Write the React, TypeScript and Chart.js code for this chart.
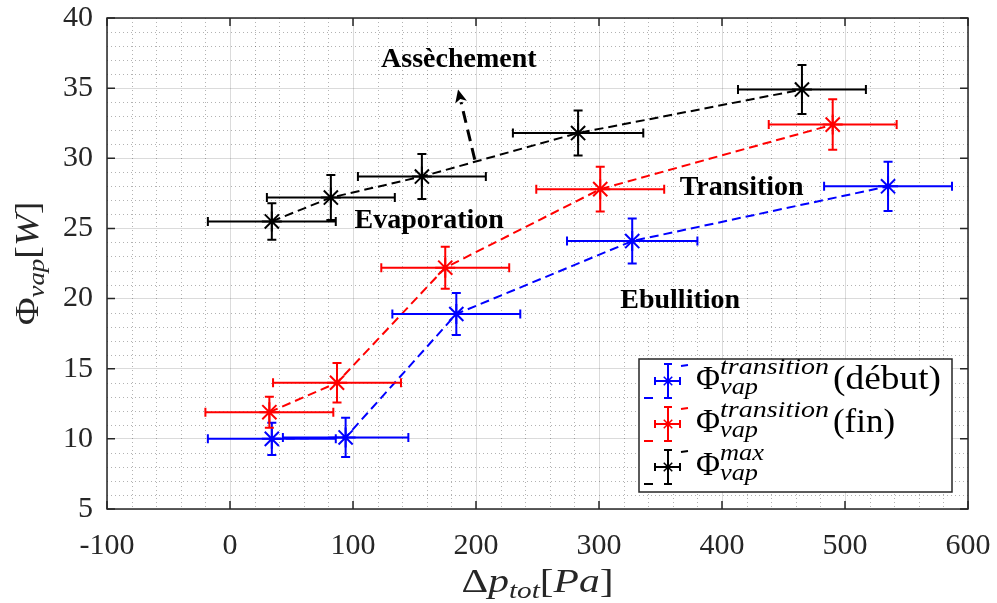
import React, { useEffect, useRef } from "react";
import { Chart, registerables } from "chart.js";

Chart.register(...registerables);

// ---------- data ----------
const xTickValues = [-100, 0, 100, 200, 300, 400, 500, 600];
const yTickValues = [5, 10, 15, 20, 25, 30, 35, 40];

const debutX = [34, 94, 184, 327, 535];
const debutY = [10.0, 10.1, 18.9, 24.1, 28.0];
const debutXErr = [52, 51, 52, 53, 52];
const debutYErr = [1.15, 1.4, 1.5, 1.6, 1.75];

const finX = [32, 87, 175, 301, 490];
const finY = [11.9, 14.0, 22.2, 27.8, 32.4];
const finXErr = [52, 52, 52, 52, 52];
const finYErr = [1.1, 1.4, 1.5, 1.6, 1.8];

const maxX = [34, 82, 156, 283, 465];
const maxY = [25.5, 27.2, 28.7, 31.8, 34.9];
const maxXErr = [52, 52, 52, 53, 52];
const maxYErr = [1.3, 1.6, 1.6, 1.6, 1.75];

const seriesColors = ["#0000ff", "#ff0000", "#000000"];
const legendSup = ["transition", "transition", "max"];
const legendSuffix = ["(début)", "(fin)", ""];

const annotationLabels = ["Assèchement", "Evaporation", "Transition", "Ebullition"];
const annotationX = [186, 162, 416, 366];
const annotationY = [36.5, 25.03, 27.4, 19.33];

const arrowFrom = { x: 199, y: 29.9 };
const arrowTo = { x: 185.4, y: 34.9 };

const SERIF = "'Liberation Serif', 'Times New Roman', serif";
const AXIS_COLOR = "#262626";

function toPoints(xs: number[], ys: number[]) {
  return xs.map((x, i) => ({ x, y: ys[i] }));
}

function drawText(
  ctx: CanvasRenderingContext2D,
  text: string,
  x: number,
  y: number,
  font: string,
  width?: number
) {
  ctx.save();
  ctx.font = font;
  ctx.textAlign = "left";
  ctx.textBaseline = "alphabetic";
  const w = ctx.measureText(text).width;
  const s = width ? width / w : 1;
  ctx.translate(x, y);
  ctx.scale(s, 1);
  ctx.fillText(text, 0, 0);
  ctx.restore();
}

function drawRun(
  ctx: CanvasRenderingContext2D,
  pieces: [string, string, number][],
  x: number,
  y: number,
  sx: number
) {
  ctx.save();
  ctx.translate(x, y);
  ctx.scale(sx, 1);
  ctx.textAlign = "left";
  ctx.textBaseline = "alphabetic";
  let cx = 0;
  for (const [t, f, dy] of pieces) {
    ctx.font = f;
    ctx.fillText(t, cx, dy);
    cx += ctx.measureText(t).width;
  }
  ctx.restore();
}

function runWidth(ctx: CanvasRenderingContext2D, pieces: [string, string, number][], sx: number) {
  ctx.save();
  let w = 0;
  for (const [t, f] of pieces) {
    ctx.font = f;
    w += ctx.measureText(t).width;
  }
  ctx.restore();
  return w * sx;
}

function drawStar(ctx: CanvasRenderingContext2D, cx: number, cy: number, r: number) {
  const d = r * Math.SQRT1_2;
  ctx.beginPath();
  ctx.moveTo(cx - r, cy);
  ctx.lineTo(cx + r, cy);
  ctx.moveTo(cx, cy - r);
  ctx.lineTo(cx, cy + r);
  ctx.moveTo(cx - d, cy - d);
  ctx.lineTo(cx + d, cy + d);
  ctx.moveTo(cx - d, cy + d);
  ctx.lineTo(cx + d, cy - d);
  ctx.stroke();
}

const errX = [debutXErr, finXErr, maxXErr];
const errY = [debutYErr, finYErr, maxYErr];
const seriesX = [debutX, finX, maxX];
const seriesY = [debutY, finY, maxY];

const decorPlugin = {
  id: "decor",
  beforeDatasetsDraw(chart: any) {
    const ctx: CanvasRenderingContext2D = chart.ctx;
    const xs = chart.scales.x;
    const ys = chart.scales.y;
    const ca = chart.chartArea;
    ctx.save();
    ctx.strokeStyle = "rgba(0,0,0,0.3)";
    ctx.lineWidth = 1;
    ctx.setLineDash([1, 3]);
    for (let v = -100; v <= 600; v += 20) {
      if (v % 100 === 0) continue;
      const px = Math.round(xs.getPixelForValue(v)) + 0.5;
      ctx.beginPath();
      ctx.moveTo(px, ca.top);
      ctx.lineTo(px, ca.bottom);
      ctx.stroke();
    }
    for (let v = 5; v <= 40; v += 1) {
      if (v % 5 === 0) continue;
      const py = Math.round(ys.getPixelForValue(v)) + 0.5;
      ctx.beginPath();
      ctx.moveTo(ca.left, py);
      ctx.lineTo(ca.right, py);
      ctx.stroke();
    }
    ctx.restore();
  },
  afterDatasetsDraw(chart: any) {
    const ctx: CanvasRenderingContext2D = chart.ctx;
    const xs = chart.scales.x;
    const ys = chart.scales.y;
    const ca = chart.chartArea;

    // error bars
    ctx.save();
    ctx.lineWidth = 2;
    ctx.setLineDash([]);
    const cap = 4.5;
    for (let s = 0; s < 3; s++) {
      ctx.strokeStyle = seriesColors[s];
      for (let i = 0; i < seriesX[s].length; i++) {
        const x = seriesX[s][i];
        const y = seriesY[s][i];
        const px = xs.getPixelForValue(x);
        const py = ys.getPixelForValue(y);
        const x0 = xs.getPixelForValue(x - errX[s][i]);
        const x1 = xs.getPixelForValue(x + errX[s][i]);
        const y0 = ys.getPixelForValue(y + errY[s][i]);
        const y1 = ys.getPixelForValue(y - errY[s][i]);
        ctx.beginPath();
        ctx.moveTo(x0, py);
        ctx.lineTo(x1, py);
        ctx.moveTo(x0, py - cap);
        ctx.lineTo(x0, py + cap);
        ctx.moveTo(x1, py - cap);
        ctx.lineTo(x1, py + cap);
        ctx.moveTo(px, y0);
        ctx.lineTo(px, y1);
        ctx.moveTo(px - cap, y0);
        ctx.lineTo(px + cap, y0);
        ctx.moveTo(px - cap, y1);
        ctx.lineTo(px + cap, y1);
        ctx.stroke();
      }
    }
    ctx.restore();

    // annotations
    ctx.save();
    ctx.fillStyle = "#000";
    ctx.font = `bold 28px ${SERIF}`;
    ctx.textAlign = "center";
    ctx.textBaseline = "alphabetic";
    annotationLabels.forEach((t, i) => {
      ctx.fillText(t, xs.getPixelForValue(annotationX[i]), ys.getPixelForValue(annotationY[i]));
    });
    ctx.restore();

    // arrow
    {
      const ax0 = xs.getPixelForValue(arrowFrom.x);
      const ay0 = ys.getPixelForValue(arrowFrom.y);
      const ax1 = xs.getPixelForValue(arrowTo.x);
      const ay1 = ys.getPixelForValue(arrowTo.y);
      const dx = ax1 - ax0;
      const dy = ay1 - ay0;
      const len = Math.hypot(dx, dy);
      const ux = dx / len;
      const uy = dy / len;
      const headL = 13;
      const headW = 6;
      ctx.save();
      ctx.strokeStyle = "#000";
      ctx.lineWidth = 3;
      ctx.setLineDash([12, 7]);
      ctx.beginPath();
      ctx.moveTo(ax0, ay0);
      ctx.lineTo(ax1 - ux * headL, ay1 - uy * headL);
      ctx.stroke();
      ctx.setLineDash([]);
      ctx.fillStyle = "#000";
      ctx.beginPath();
      ctx.moveTo(ax1, ay1);
      ctx.lineTo(ax1 - ux * headL - uy * headW, ay1 - uy * headL + ux * headW);
      ctx.lineTo(ax1 - ux * headL * 0.75, ay1 - uy * headL * 0.75);
      ctx.lineTo(ax1 - ux * headL + uy * headW, ay1 - uy * headL - ux * headW);
      ctx.closePath();
      ctx.fill();
      ctx.restore();
    }

    // frame and inward ticks
    ctx.save();
    ctx.strokeStyle = AXIS_COLOR;
    ctx.lineWidth = 1.5;
    ctx.setLineDash([]);
    ctx.strokeRect(ca.left, ca.top, ca.right - ca.left, ca.bottom - ca.top);
    const tl = 8;
    ctx.beginPath();
    xTickValues.forEach((v) => {
      const px = xs.getPixelForValue(v);
      ctx.moveTo(px, ca.bottom);
      ctx.lineTo(px, ca.bottom - tl);
      ctx.moveTo(px, ca.top);
      ctx.lineTo(px, ca.top + tl);
    });
    yTickValues.forEach((v) => {
      const py = ys.getPixelForValue(v);
      ctx.moveTo(ca.left, py);
      ctx.lineTo(ca.left + tl, py);
      ctx.moveTo(ca.right, py);
      ctx.lineTo(ca.right - tl, py);
    });
    ctx.stroke();
    ctx.restore();

    // legend
    {
      const R = ca.right - 16;
      const B = ca.bottom - 17;
      const L = R - 313;
      const T = B - 133;
      ctx.save();
      ctx.fillStyle = "#fff";
      ctx.fillRect(L, T, R - L, B - T);
      ctx.strokeStyle = AXIS_COLOR;
      ctx.lineWidth = 1.5;
      ctx.strokeRect(L, T, R - L, B - T);
      const step = 43;
      for (let r = 0; r < 3; r++) {
        const cx = L + 29;
        const cy = T + 22 + r * step;
        const col = seriesColors[r];
        ctx.strokeStyle = col;
        ctx.lineWidth = 2;
        ctx.beginPath();
        ctx.moveTo(cx - 24, cy + 17);
        ctx.lineTo(cx - 15, cy + 17);
        ctx.moveTo(cx + 13, cy - 15);
        ctx.lineTo(cx + 20, cy - 16);
        ctx.stroke();
        ctx.beginPath();
        ctx.moveTo(cx, cy - 17);
        ctx.lineTo(cx, cy + 17);
        ctx.moveTo(cx - 4, cy - 17);
        ctx.lineTo(cx + 4, cy - 17);
        ctx.moveTo(cx - 4, cy + 17);
        ctx.lineTo(cx + 4, cy + 17);
        ctx.moveTo(cx - 13, cy);
        ctx.lineTo(cx + 12, cy);
        ctx.moveTo(cx - 13, cy - 4);
        ctx.lineTo(cx - 13, cy + 4);
        ctx.moveTo(cx + 12, cy - 4);
        ctx.lineTo(cx + 12, cy + 4);
        ctx.stroke();
        ctx.lineWidth = 1.5;
        drawStar(ctx, cx, cy, 6);
        ctx.fillStyle = "#000";
        const base = T + 30 + r * step;
        drawText(ctx, "Φ", L + 57, base, `33px ${SERIF}`, 24);
        const supW = legendSup[r] === "max" ? 44 : 109;
        drawText(ctx, legendSup[r], L + 81, base - 15, `italic 24px ${SERIF}`, supW);
        drawText(ctx, "vap", L + 81, base + 5, `italic 24px ${SERIF}`, 38);
        if (legendSuffix[r]) {
          const sw = legendSuffix[r] === "(fin)" ? 62 : 108;
          drawText(ctx, legendSuffix[r], L + 194, base, `34px ${SERIF}`, sw);
        }
      }
      ctx.restore();
    }
  },
  afterDraw(chart: any) {
    const ctx: CanvasRenderingContext2D = chart.ctx;
    const ca = chart.chartArea;
    ctx.save();
    ctx.fillStyle = AXIS_COLOR;
    const xPieces: [string, string, number][] = [
      ["Δ", `34px ${SERIF}`, 0],
      ["p", `italic 34px ${SERIF}`, 0],
      ["tot", `italic 24px ${SERIF}`, 6],
      ["[", `34px ${SERIF}`, 0],
      ["Pa", `italic 34px ${SERIF}`, 0],
      ["]", `34px ${SERIF}`, 0],
    ];
    const sx = 1.22;
    const mid = (ca.left + ca.right) / 2;
    const wx = runWidth(ctx, xPieces, sx);
    drawRun(ctx, xPieces, mid - wx / 2, 592, sx);

    const yPieces: [string, string, number][] = [
      ["Φ", `34px ${SERIF}`, 0],
      ["vap", `italic 24px ${SERIF}`, 6],
      ["[", `34px ${SERIF}`, 0],
      ["W", `italic 34px ${SERIF}`, 0],
      ["]", `34px ${SERIF}`, 0],
    ];
    const wy = runWidth(ctx, yPieces, 1.12);
    const midY = (ca.top + ca.bottom) / 2;
    ctx.translate(38, midY + wy / 2);
    ctx.rotate(-Math.PI / 2);
    drawRun(ctx, yPieces, 0, 0, 1.12);
    ctx.restore();
  },
};

const tickFont = { family: SERIF, size: 30 };

function makeDataset(i: number, label: string) {
  return {
    label,
    data: toPoints(seriesX[i], seriesY[i]),
    showLine: true,
    borderColor: seriesColors[i],
    backgroundColor: seriesColors[i],
    borderWidth: 2,
    borderDash: [9, 5],
    pointStyle: "star" as const,
    pointRadius: 10,
    pointHoverRadius: 10,
    pointBorderWidth: 2,
    pointBorderColor: seriesColors[i],
    tension: 0,
  };
}

export default function App() {
  const ref = useRef<HTMLCanvasElement>(null);
  useEffect(() => {
    document.body.style.margin = "0";
    const chart = new Chart(ref.current as HTMLCanvasElement, {
      type: "scatter",
      data: {
        datasets: [
          makeDataset(2, "max"),
          makeDataset(1, "transition fin"),
          makeDataset(0, "transition début"),
        ],
      },
      options: {
        responsive: false,
        animation: false,
        events: [],
        layout: { padding: { top: 18, right: 29, left: 0, bottom: 0 } },
        plugins: {
          legend: { display: false },
          tooltip: { enabled: false },
          title: { display: false },
        },
        scales: {
          x: {
            type: "linear",
            min: -100,
            max: 600,
            afterBuildTicks: (s: any) => {
              s.ticks = xTickValues.map((v) => ({ value: v }));
            },
            afterFit: (s: any) => {
              s.height = 94;
              s.paddingLeft = 0;
              s.paddingRight = 0;
            },
            ticks: {
              font: tickFont,
              color: AXIS_COLOR,
              padding: 19,
              maxRotation: 0,
              autoSkip: false,
              callback: (v: any) => String(v),
            },
            grid: { color: "rgba(0,0,0,0.14)", lineWidth: 1, drawTicks: false },
            border: { display: false },
          },
          y: {
            type: "linear",
            min: 5,
            max: 40,
            afterBuildTicks: (s: any) => {
              s.ticks = yTickValues.map((v) => ({ value: v }));
            },
            afterFit: (s: any) => {
              s.width = 107;
              s.paddingTop = 0;
              s.paddingBottom = 0;
            },
            ticks: {
              font: tickFont,
              color: AXIS_COLOR,
              padding: 14,
              autoSkip: false,
              callback: (v: any) => String(v),
            },
            grid: { color: "rgba(0,0,0,0.14)", lineWidth: 1, drawTicks: false },
            border: { display: false },
          },
        },
      },
      plugins: [decorPlugin],
    } as any);
    return () => chart.destroy();
  }, []);
  return (
    <div style={{ position: "relative", width: 997, height: 603, background: "#fff" }}>
      <canvas ref={ref} width={997} height={603} style={{ width: 997, height: 603, display: "block" }} />
    </div>
  );
}
